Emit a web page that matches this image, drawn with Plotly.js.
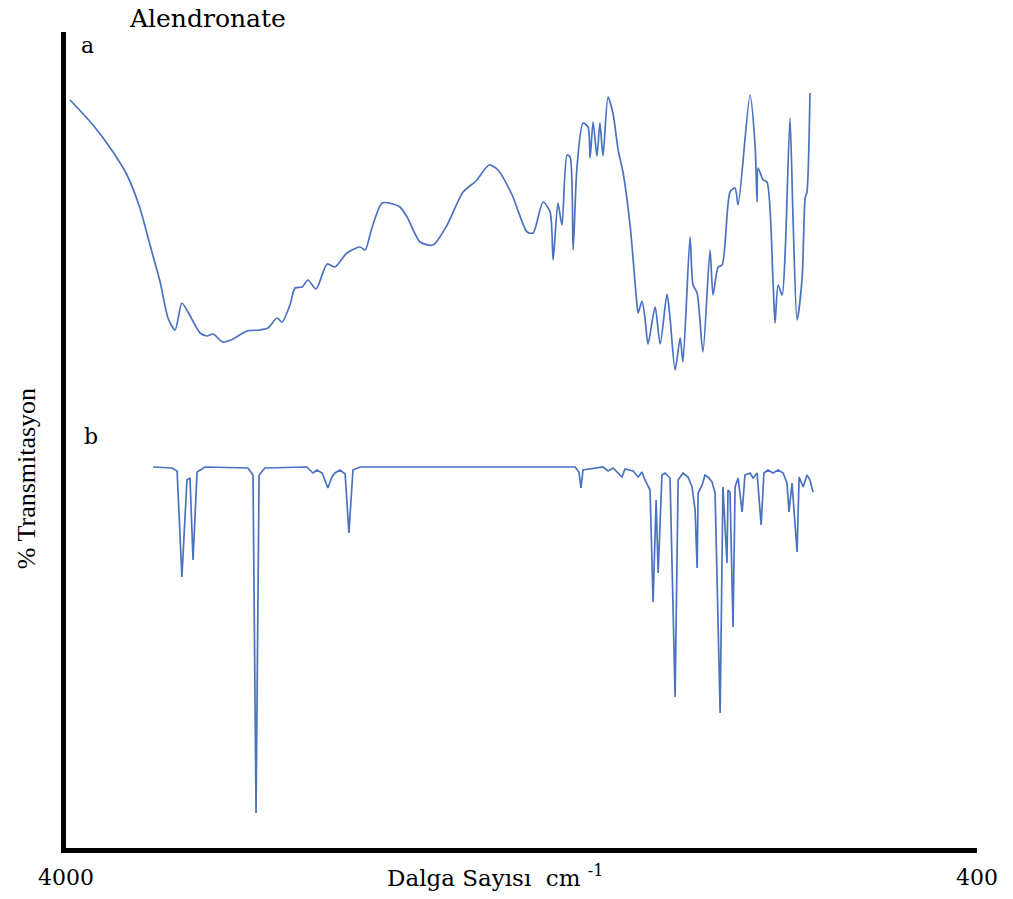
<!DOCTYPE html>
<html>
<head>
<meta charset="utf-8">
<script src="https://cdn.plot.ly/plotly-3.0.1.min.js"></script>
<style>html,body{margin:0;padding:0;background:#fff;}#chart{width:1013px;height:899px;}</style>
</head>
<body>
<div id="chart"></div>
<script>
// Spectrum a (Alendronate) : wavenumber (cm-1) and transmittance (arbitrary %T units)
const waveA = [3984,3893,3814,3759,3708,3668,3628,3597,3569,3542,3518,3470,3443,3419,3380,3340,3285,3233,3202,3166,3146,3115,3095,3067,3044,3012,2968,2937,2890,2838,2818,2791,2751,2708,2680,2652,2601,2550,2494,2431,2380,2328,2293,2237,2178,2154,2115,2087,2075,2056,2040,2020,2008,1996,1981,1957,1937,1929,1917,1902,1890,1878,1858,1838,1818,1799,1771,1747,1739,1724,1712,1700,1672,1652,1625,1613,1593,1573,1562,1534,1522,1506,1483,1455,1443,1423,1407,1376,1356,1344,1297,1277,1269,1265,1245,1230,1206,1198,1186,1170,1158,1139,1127,1111,1091,1079,1072,1060];
const transA = [74.8,72.3,69.6,67.3,64.0,60.3,56.6,53.0,51.8,54.5,53.6,51.5,51.2,51.4,50.6,50.9,51.7,51.8,52.0,53.0,52.6,54.3,56.0,56.1,56.8,55.9,58.4,58.1,59.5,60.1,59.8,62.0,64.5,64.4,64.1,63.1,60.6,60.3,62.3,65.6,66.7,68.3,67.8,65.3,61.6,61.5,64.6,63.6,58.8,64.5,62.3,69.3,69.1,59.8,68.0,72.5,72.1,69.0,72.6,69.2,72.5,69.2,75.1,73.4,69.8,67.6,62.3,55.3,53.5,54.7,53.0,50.4,54.1,50.4,55.4,53.0,47.8,51.0,48.6,61.1,56.3,55.5,49.6,59.8,55.3,58.1,58.3,65.6,66.0,64.3,75.3,70.3,64.6,68.0,66.8,66.6,56.6,52.5,56.3,55.3,59.6,73.0,63.0,52.8,57.0,65.0,65.6,75.5];

// Spectrum b (reference) : wavenumber (cm-1) and transmittance (arbitrary %T units)
const waveB = [3656,3581,3561,3542,3522,3510,3498,3482,3451,3281,3261,3249,3237,3214,3048,3024,3008,2988,2965,2949,2937,2917,2897,2882,2866,2838,1988,1973,1965,1957,1878,1858,1838,1803,1791,1759,1739,1724,1712,1700,1692,1680,1668,1660,1645,1633,1613,1593,1581,1562,1542,1526,1514,1506,1502,1486,1475,1463,1447,1435,1415,1404,1388,1384,1376,1364,1356,1344,1328,1317,1297,1285,1269,1253,1242,1226,1206,1186,1166,1151,1143,1131,1111,1103,1087,1072,1060,1048];
const transB = [38.1,38.0,37.7,27.1,36.8,37.0,28.8,37.6,38.1,38.0,37.3,3.5,37.3,38.0,38.1,37.5,37.8,37.5,36.0,37.1,37.5,37.8,37.4,31.5,37.8,38.1,38.1,37.6,36.0,37.8,38.1,37.7,38.0,37.1,37.9,37.7,37.1,37.6,36.8,36.1,35.8,24.6,34.8,27.5,37.3,37.5,37.0,15.1,36.8,37.5,37.1,36.1,33.8,28.0,35.5,36.3,37.3,37.1,36.6,35.5,13.5,36.1,28.5,35.8,35.6,22.1,36.1,37.0,33.6,37.3,37.5,37.0,37.5,32.3,37.5,37.8,37.5,37.8,37.5,36.5,33.6,36.5,29.6,37.1,36.1,37.3,36.8,35.6];

const xTicks = [4000, 400];
const xTickText = ['4000', '400'];

const blue = '#4a72c0';
const serifWide = 'DejaVu Serif';
const serif = 'Liberation Serif';

const traces = [
  {x: waveA, y: transA, type: 'scatter', mode: 'lines', name: 'a',
   line: {color: blue, width: 1.7, shape: 'spline', smoothing: 0.7}},
  {x: waveB, y: transB, type: 'scatter', mode: 'lines', name: 'b',
   line: {color: blue, width: 1.7}}
];

const layout = {
  width: 1013, height: 899,
  margin: {l: 66, r: 36, t: 32, b: 51},
  paper_bgcolor: '#ffffff', plot_bgcolor: '#ffffff',
  showlegend: false,
  font: {family: serifWide, color: '#000'},
  xaxis: {
    range: [4000, 400], showgrid: false, zeroline: false,
    showline: true, linecolor: '#000', linewidth: 5,
    ticks: '', tickvals: xTicks, ticktext: xTickText,
    tickfont: {family: serifWide, size: 22, color: '#000'},
    ticklabelstandoff: 6
  },
  yaxis: {
    range: [0, 81.6], showgrid: false, zeroline: false,
    showline: true, linecolor: '#000', linewidth: 5,
    ticks: '', showticklabels: false
  },
  annotations: [
    {text: 'Alendronate', xref: 'paper', yref: 'paper', x: 0.155, y: 1.017,
     xanchor: 'center', yanchor: 'middle', showarrow: false,
     font: {family: serifWide, size: 25, color: '#000'}},
    {text: 'a', xref: 'paper', yref: 'paper', x: 0.024, y: 0.983,
     xanchor: 'center', yanchor: 'middle', showarrow: false,
     font: {family: serifWide, size: 22, color: '#000'}},
    {text: 'b', xref: 'paper', yref: 'paper', x: 0.027, y: 0.504,
     xanchor: 'center', yanchor: 'middle', showarrow: false,
     font: {family: serifWide, size: 22, color: '#000'}},
    {text: 'Dalga Sayısı\u00a0\u00a0cm <sup>-1</sup>', xref: 'paper', yref: 'paper', x: 0.471, y: -0.034,
     xanchor: 'center', yanchor: 'middle', showarrow: false,
     font: {family: serifWide, size: 23, color: '#000'}},
    {text: '% Transmitasyon', xref: 'paper', yref: 'paper', x: -0.043, y: 0.453,
     xanchor: 'center', yanchor: 'middle', showarrow: false, textangle: -90,
     font: {family: serif, size: 26, color: '#000'}}
  ]
};

Plotly.newPlot('chart', traces, layout, {staticPlot: true, displayModeBar: false});
</script>
</body>
</html>
